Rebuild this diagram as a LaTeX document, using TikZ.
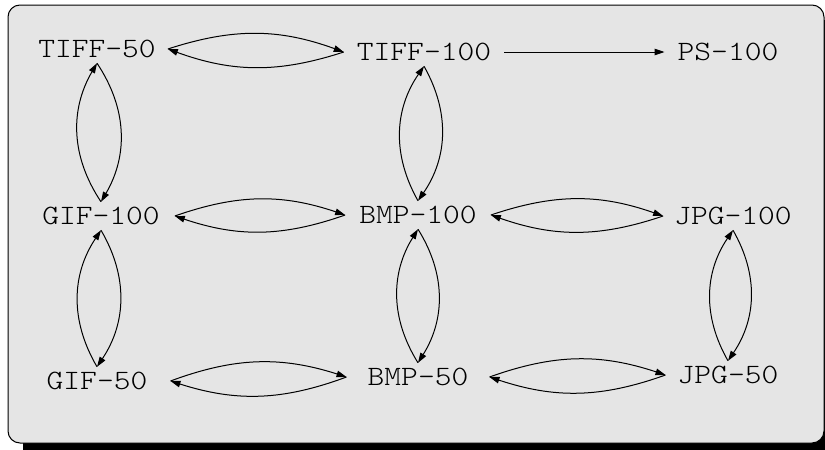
\documentclass[tikz,border=0pt]{standalone}
\usepackage{fontspec}
\newfontfamily\courlike{Latin Modern Mono Light}[FakeStretch=1.14]
\usetikzlibrary{arrows.meta}
\begin{document}
\begin{tikzpicture}[x=1pt,y=-1pt,
  lbl/.style={font=\courlike\fontsize{28}{28}\selectfont, inner xsep=12pt, inner ysep=6pt, text height=16pt, text depth=0pt},
  conn/.style={line width=1pt, -{Triangle[length=10pt,width=6.5pt]}},
  hb/.style={conn, bend left=19},
  vb/.style={conn, bend left=32},
]
\useasboundingbox (0,0) rectangle (825,450);
\clip (0,0) rectangle (825,450);
\fill[black, rounded corners=12pt] (23,20) rectangle (850,470);
\draw[fill=gray!20, line width=1pt, rounded corners=12pt] (8,5) rectangle (824,443);

\node[lbl, inner xsep=12pt] (t50)  at (97,49)   {TIFF-50};
\node[lbl, inner xsep=13pt] (t100) at (424,52)  {TIFF-100};
\node[lbl, inner xsep=13pt] (ps)   at (728,52)  {PS-100};
\node[lbl, inner xsep=15pt] (g100) at (101,216) {GIF-100};
\node[lbl, inner xsep=14pt] (b100) at (418,215) {BMP-100};
\node[lbl, inner xsep=11pt] (j100) at (733,216) {JPG-100};
\node[lbl, inner xsep=23pt] (g50)  at (97,381)  {GIF-50};
\node[lbl, inner xsep=21pt] (b50)  at (418,377) {BMP-50};
\node[lbl, inner xsep=12pt] (j50)  at (728,375) {JPG-50};

% horizontal pairs
\draw[hb] (t50.east) to (t100.west);
\draw[hb] (t100.west) to (t50.east);
\draw[hb] (g100.east) to (b100.west);
\draw[hb] (b100.west) to (g100.east);
\draw[hb] (b100.east) to (j100.west);
\draw[hb] (j100.west) to (b100.east);
\draw[hb] (g50.east) to (b50.west);
\draw[hb] (b50.west) to (g50.east);
\draw[hb] (b50.east) to (j50.west);
\draw[hb] (j50.west) to (b50.east);
% straight
\draw[conn] (t100.east) -- (ps.west);
% vertical pairs
\draw[vb] (t50.south) to (g100.north);
\draw[vb] (g100.north) to (t50.south);
\draw[vb] (t100.south) to (b100.north);
\draw[vb] (b100.north) to (t100.south);
\draw[vb] (g100.south) to (g50.north);
\draw[vb] (g50.north) to (g100.south);
\draw[vb] (b100.south) to (b50.north);
\draw[vb] (b50.north) to (b100.south);
\draw[vb] (j100.south) to (j50.north);
\draw[vb] (j50.north) to (j100.south);
\end{tikzpicture}
\end{document}
